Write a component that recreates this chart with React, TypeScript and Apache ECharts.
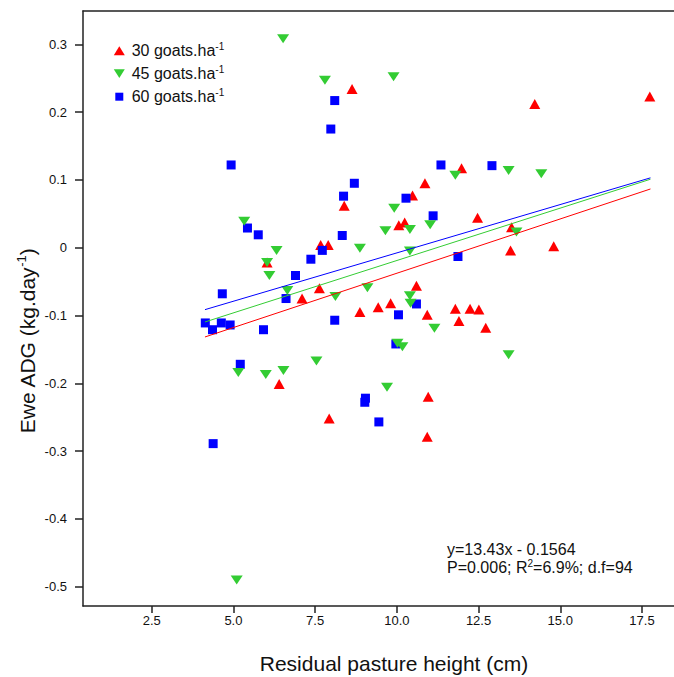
import React, { useEffect, useRef } from 'react';
import * as echarts from 'echarts';

const seriesNames = ['30 goats.ha', '45 goats.ha', '60 goats.ha'];
const seriesColors = ['#ff0000', '#33cc33', '#0000ff'];

const redX = [8.63, 14.22, 17.74, 8.39, 11.98, 10.86, 10.48, 7.67, 7.9, 6.03, 7.63, 7.1, 8.87, 9.43, 6.4, 12.47, 10.06, 10.24, 13.51, 13.48, 14.8, 10.6, 9.81, 10.93, 11.79, 12.24, 12.51, 11.9, 12.72, 10.96, 7.93, 10.93];
const redY = [0.234, 0.212, 0.223, 0.062, 0.117, 0.095, 0.077, 0.004, 0.004, -0.022, -0.06, -0.075, -0.095, -0.088, -0.201, 0.044, 0.033, 0.037, 0.03, -0.004, 0.002, -0.056, -0.082, -0.099, -0.09, -0.09, -0.091, -0.108, -0.118, -0.22, -0.252, -0.279];

const greenX = [6.52, 7.8, 9.9, 11.79, 13.42, 14.42, 9.92, 5.33, 6.32, 6.03, 6.1, 6.65, 8.87, 8.12, 9.1, 7.54, 5.15, 5.99, 6.53, 9.65, 10.4, 11.02, 13.66, 10.4, 10.4, 10.42, 11.15, 10.17, 13.42, 9.7, 5.1, 10.02];
const greenY = [0.308, 0.247, 0.252, 0.107, 0.114, 0.109, 0.058, 0.039, -0.004, -0.022, -0.041, -0.063, -0.001, -0.072, -0.059, -0.167, -0.184, -0.187, -0.181, 0.025, 0.027, 0.034, 0.023, -0.005, -0.071, -0.082, -0.119, -0.146, -0.158, -0.206, -0.49, -0.141];

const blueX = [8.1, 7.98, 4.93, 8.7, 8.37, 11.35, 12.91, 10.28, 11.11, 5.43, 5.76, 8.33, 7.72, 7.37, 6.9, 4.66, 6.61, 4.14, 4.36, 4.63, 4.9, 5.92, 8.1, 5.21, 9.04, 9.02, 11.87, 10.6, 10.05, 9.97, 4.38, 9.45];
const blueY = [0.217, 0.175, 0.122, 0.095, 0.076, 0.122, 0.121, 0.073, 0.047, 0.029, 0.019, 0.018, -0.004, -0.017, -0.041, -0.068, -0.075, -0.111, -0.121, -0.111, -0.114, -0.121, -0.107, -0.172, -0.222, -0.228, -0.013, -0.083, -0.099, -0.142, -0.289, -0.257];

// regression lines (start / end)
const regX = [4.13, 17.76];
const regRedY = [-0.1317, 0.0866];
const regGreenY = [-0.1096, 0.101];
const regBlueY = [-0.0914, 0.103];

const xTicks = [2.5, 5, 7.5, 10, 12.5, 15, 17.5];
const yTicks = [-0.5, -0.4, -0.3, -0.2, -0.1, 0, 0.1, 0.2, 0.3];

const xTitle = 'Residual pasture height (cm)';
const yTitle = 'Ewe ADG (kg.day';
const eqLine1 = 'y=13.43x - 0.1564';
const eqLine2a = 'P=0.006; R';
const eqLine2b = '=6.9%; d.f=94';

const FONT = 'Liberation Sans, Arial, Helvetica, sans-serif';
const AXIS_COLOR = '#222';
const TEXT_COLOR = '#111';

const zip = (xs: number[], ys: number[]) => xs.map((x, i) => [x, ys[i]]);

export default function App() {
  const ref = useRef<HTMLDivElement>(null);
  useEffect(() => {
    if (!ref.current) return;
    const chart = echarts.init(ref.current, null, { renderer: 'svg' });
    const axisLine = { show: true, onZero: false, lineStyle: { color: AXIS_COLOR, width: 1.5 } };
    const legendRich = {
      b: { fontSize: 16, lineHeight: 18, fontFamily: FONT, color: TEXT_COLOR, verticalAlign: 'middle' },
      s: { fontSize: 10, lineHeight: 10, fontFamily: FONT, color: TEXT_COLOR, verticalAlign: 'top' },
    };
    const mkLegend = (name: string, icon: string, w: number, h: number, top: number, pad: number) => ({
      show: true,
      left: 119.3 - w / 2,
      top,
      padding: 0,
      itemWidth: w,
      itemHeight: h,
      selectedMode: false,
      data: [{ name, icon }],
      formatter: (n: string) => `{b|${n}}{s|-1}`,
      textStyle: {
        fontSize: 16,
        fontFamily: FONT,
        color: TEXT_COLOR,
        padding: [0, 0, 0, pad],
        rich: legendRich,
      },
    });
    const lineSeries = (ys: number[], color: string) => ({
      type: 'line',
      data: zip(regX, ys),
      symbol: 'none',
      silent: true,
      z: 5,
      lineStyle: { color, width: 1 },
    });
    chart.setOption({
      animation: false,
      grid: { left: 83, right: 0, top: 11, bottom: 71, containLabel: false },
      legend: [
        mkLegend(seriesNames[0], 'triangle', 11, 9, 41.7, 131.7 - (119.3 + 5.5 + 5)),
        mkLegend(seriesNames[1], 'path://M0,0L10,0L5,8Z', 11, 9, 64.7, 131.7 - (119.3 + 5.5 + 5)),
        mkLegend(seriesNames[2], 'rect', 8, 8, 87.7, 131.7 - (119.3 + 4 + 5)),
      ],
      xAxis: [
        {
          type: 'value',
          min: 0.398,
          max: 18.48,
          axisLine,
          axisTick: { show: true, length: 7, customValues: xTicks, lineStyle: { color: AXIS_COLOR, width: 1.5 } },
          axisLabel: {
            customValues: xTicks,
            margin: 8,
            fontSize: 13,
            fontFamily: FONT,
            color: TEXT_COLOR,
            formatter: (v: number) => v.toFixed(1),
          },
          splitLine: { show: false },
        },
        {
          type: 'value',
          position: 'top',
          min: 0.398,
          max: 18.48,
          axisLine,
          axisTick: { show: false },
          axisLabel: { show: false },
          splitLine: { show: false },
        },
      ],
      yAxis: {
        type: 'value',
        min: -0.5285,
        max: 0.3491,
        axisLine,
        axisTick: { show: true, length: 8, customValues: yTicks, lineStyle: { color: AXIS_COLOR, width: 1.5 } },
        axisLabel: {
          customValues: yTicks,
          margin: 16,
          fontSize: 13,
          fontFamily: FONT,
          color: TEXT_COLOR,
          formatter: (v: number) => (Math.abs(v) < 1e-9 ? '0' : v.toFixed(1)),
        },
        splitLine: { show: false },
      },
      series: [
        {
          name: seriesNames[0],
          type: 'scatter',
          data: zip(redX, redY),
          symbol: 'triangle',
          symbolSize: [11, 10],
          itemStyle: { color: seriesColors[0], opacity: 1 },
          z: 2,
        },
        {
          name: seriesNames[2],
          type: 'scatter',
          data: zip(blueX, blueY),
          symbol: 'rect',
          symbolSize: 9,
          itemStyle: { color: seriesColors[2], opacity: 1 },
          z: 3,
        },
        {
          name: seriesNames[1],
          type: 'scatter',
          data: zip(greenX, greenY),
          symbol: 'triangle',
          symbolRotate: 180,
          symbolSize: [12, 9],
          itemStyle: { color: seriesColors[1], opacity: 1 },
          z: 4,
        },
        lineSeries(regRedY, seriesColors[0]),
        lineSeries(regGreenY, seriesColors[1]),
        lineSeries(regBlueY, seriesColors[2]),
      ],
      graphic: [
        {
          type: 'text',
          x: 394,
          y: 663,
          style: {
            text: xTitle,
            fontSize: 21,
            fontFamily: FONT,
            fill: TEXT_COLOR,
            align: 'center',
            verticalAlign: 'middle',
          },
        },
        {
          type: 'text',
          x: 27,
          y: 341,
          rotation: Math.PI / 2,
          style: {
            text: `{a|${yTitle}}{s|-1}{a|)}`,
            fontSize: 21,
            fontFamily: FONT,
            fill: TEXT_COLOR,
            align: 'center',
            verticalAlign: 'middle',
            rich: {
              a: { fontSize: 21, lineHeight: 24, fontFamily: FONT, fill: TEXT_COLOR, verticalAlign: 'middle' },
              s: { fontSize: 13, lineHeight: 13, fontFamily: FONT, fill: TEXT_COLOR, verticalAlign: 'top' },
            },
          },
        },
        {
          type: 'text',
          x: 447,
          y: 540,
          style: {
            text: `{a|${eqLine1}}\n{a|${eqLine2a}}{s|2}{a|${eqLine2b}}`,
            fontSize: 16,
            fontFamily: FONT,
            fill: TEXT_COLOR,
            align: 'left',
            verticalAlign: 'top',
            rich: {
              a: { fontSize: 16, lineHeight: 18, fontFamily: FONT, fill: TEXT_COLOR, verticalAlign: 'middle' },
              s: { fontSize: 10, lineHeight: 10, fontFamily: FONT, fill: TEXT_COLOR, verticalAlign: 'top' },
            },
          },
        },
      ],
    });
    return () => chart.dispose();
  }, []);
  return (
    <div
      ref={ref}
      style={{ position: 'absolute', left: 0, top: 0, width: 674, height: 677, background: '#fff' }}
    />
  );
}
